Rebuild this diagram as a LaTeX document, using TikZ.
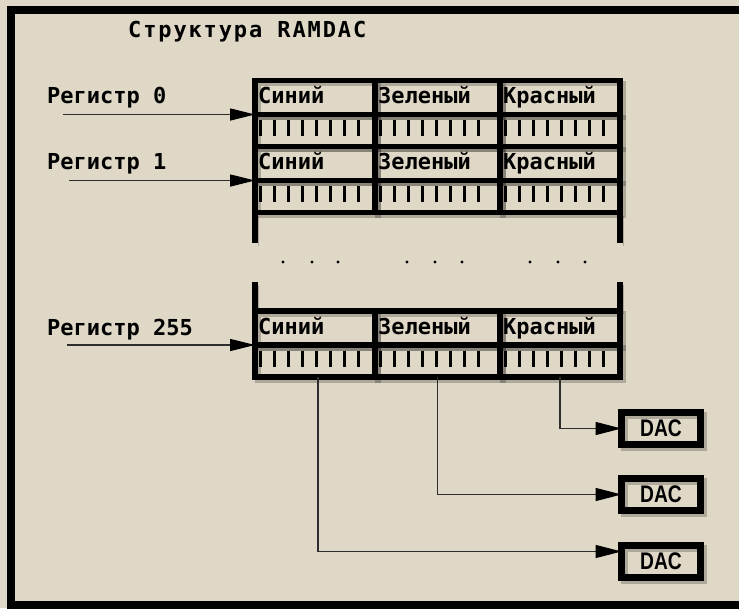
\documentclass[tikz,border=0pt]{standalone}
\usepackage{fontspec}
\usetikzlibrary{arrows.meta}
\newfontfamily\monof{DejaVu Sans Mono}
\newfontfamily\titlef{DejaVu Sans Mono}[LetterSpace=8.5]
\newfontfamily\dacf{Liberation Sans}[FakeStretch=0.8]
\definecolor{paper}{RGB}{224,216,199}
\definecolor{thinline}{RGB}{45,45,45}
\begin{document}
\begin{tikzpicture}[x=1pt,y=-1pt,
  shadowed/.style={preaction={draw=black, opacity=0.22, transform canvas={shift={(3pt,-3pt)}}}},
  tableline/.style={line width=5.5pt, draw=black},
  namebox/.style={tableline, shadowed, inner sep=0pt, outer sep=0pt, anchor=north west, minimum height=34pt},
  bitbox/.style={tableline, shadowed, inner sep=0pt, outer sep=0pt, anchor=north west, minimum height=32pt},
  celltext/.style={anchor=base west, inner sep=0pt, font=\monof\bfseries\fontsize{22}{24}\selectfont},
  regtext/.style={anchor=base west, inner sep=0pt, font=\monof\bfseries\fontsize{22}{24}\selectfont},
  titletext/.style={anchor=base west, inner sep=0pt, font=\titlef\bfseries\fontsize{22}{24}\selectfont},
  tick/.style={line width=2.2pt, draw=black},
  dacbox/.style={draw=black, shadowed, line width=7pt, minimum width=79pt, minimum height=32pt, inner sep=0pt, outer sep=0pt, font=\dacf\bfseries\fontsize{24}{26}\selectfont},
  inarrow/.style={draw=thinline, line width=1.3pt, -{Triangle[length=25pt,width=12pt,color=black]}},
  outarrow/.style={draw=thinline, line width=1.3pt, -{Triangle[length=26pt,width=13pt,color=black]}},
  dot/.style={fill=black}
]
\clip (0,0) rectangle (739,608);
\fill[paper] (0,0) rectangle (739,608);
% outer frame (open on the right)
\draw[line width=8pt] (745,9.5) -- (10.5,9.5) -- (10.5,604.5) -- (745,604.5);
% title
\node[titletext] (title) at (128,37) {Структура RAMDAC};
% register groups
\foreach \g/\t in {0/80.5, 1/146.5, 2/311} {
  \foreach \c/\x/\w/\s in {a/255/120/Синий, b/375/125/Зеленый, c/500/120/Красный} {
    \node[namebox, minimum width=\w pt] (n\g\c) at (\x,\t) {};
    \node[bitbox, minimum width=\w pt] (b\g\c) at (\x,\t+34) {};
  }
}
\foreach \g/\t in {0/80.5, 1/146.5, 2/311} {
  \foreach \c/\x/\w/\s in {a/255/120/Синий, b/375/125/Зеленый, c/500/120/Красный} {
    \node[celltext] (t\g\c) at ([xshift=3pt,yshift=-6pt]n\g\c.west) {\s};
    \foreach \k in {0,...,7} {
      \draw[tick] (\x+5.5+14*\k,\t+39.5) -- ++(0,16);
    }
  }
}
% side extensions around the gap
\draw[tableline, shadowed] (b1a.south west) -- ++(0,30.5);
\draw[tableline, shadowed] (b1c.south east) -- ++(0,30.5);
\draw[tableline, shadowed] (n2a.north west) -- ++(0,-29);
\draw[tableline, shadowed] (n2c.north east) -- ++(0,-29);
% ellipsis dots
\foreach \d in {283,312,338,407,435,462,530,558,585} {
  \fill[dot] (\d,262) circle (1.6);
}
% register labels and arrows
\node[regtext] (r0) at (47,103) {Регистр 0};
\node[regtext] (r1) at (47,169) {Регистр 1};
\node[regtext] (r2) at (47,335) {Регистр 255};
\coordinate (s0) at (63,114.5);
\coordinate (s1) at (69,180.5);
\coordinate (s2) at (67,345);
\draw[inarrow] (s0) -- (b0a.north west);
\draw[inarrow] (s1) -- (b1a.north west);
\draw[inarrow] (s2) -- (b2a.north west);
% DACs
\node[dacbox] (dac1) at (661,428.5) {DAC};
\node[dacbox] (dac2) at (661,494.5) {DAC};
\node[dacbox] (dac3) at (661,561.5) {DAC};
\draw[outarrow] (b2c.south) |- (dac1.west);
\draw[outarrow] (b2b.south) |- (dac2.west);
\draw[outarrow] ([xshift=3pt]b2a.south) |- ([yshift=10pt]dac3.west);
\end{tikzpicture}
\end{document}
